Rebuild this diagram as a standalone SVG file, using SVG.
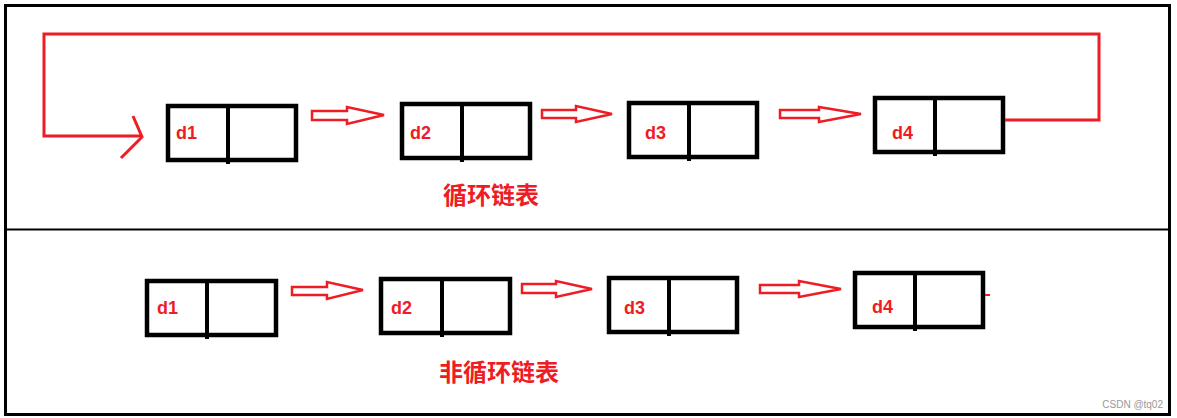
<svg xmlns="http://www.w3.org/2000/svg" width="1177" height="418" viewBox="0 0 1177 418">
<style>
.box{fill:none;stroke:#000;stroke-width:4.5}
.div{stroke:#000;stroke-width:4}
.lbl{font-family:"Liberation Sans",Arial,sans-serif;font-size:18px;font-weight:bold;fill:#ee1c24}
.title{font-family:"Noto Sans CJK SC",sans-serif;font-size:24px;font-weight:bold;fill:#ee1c24}
.hollow{fill:#fff;stroke:#ee1c24;stroke-width:2.5;stroke-linejoin:miter}
.red{fill:none;stroke:#ee1c24;stroke-width:3}
</style>
<rect x="0" y="0" width="1177" height="418" fill="#fff"/>
<rect x="5.5" y="5.5" width="1164" height="409" fill="none" stroke="#000" stroke-width="3"/>
<line x1="5" y1="229.5" x2="1170" y2="229.5" stroke="#000" stroke-width="2"/>

<g id="top-d1"><rect class="box" x="168" y="106" width="128" height="54"/><line class="div" x1="228" y1="106" x2="228" y2="164"/><text class="lbl" x="176" y="139">d1</text></g>
<g id="top-d2"><rect class="box" x="402" y="104" width="128" height="54"/><line class="div" x1="462" y1="104" x2="462" y2="162"/><text class="lbl" x="410" y="139">d2</text></g>
<g id="top-d3"><rect class="box" x="629" y="103" width="128" height="54"/><line class="div" x1="689" y1="103" x2="689" y2="161"/><text class="lbl" x="645" y="139">d3</text></g>
<g id="top-d4"><rect class="box" x="875" y="98" width="128" height="54"/><line class="div" x1="935" y1="98" x2="935" y2="156"/><text class="lbl" x="892" y="139">d4</text></g>
<text class="title" x="443" y="204">循环链表</text>

<g id="bot-d1"><rect class="box" x="147" y="281" width="129" height="54"/><line class="div" x1="207" y1="281" x2="207" y2="339"/><text class="lbl" x="157" y="314">d1</text></g>
<g id="bot-d2"><rect class="box" x="381" y="279" width="129" height="54"/><line class="div" x1="442" y1="279" x2="442" y2="337"/><text class="lbl" x="391" y="314">d2</text></g>
<g id="bot-d3"><rect class="box" x="609" y="278" width="128" height="54"/><line class="div" x1="669" y1="278" x2="669" y2="336"/><text class="lbl" x="624" y="314">d3</text></g>
<g id="bot-d4"><rect class="box" x="855" y="273" width="128" height="54"/><line class="div" x1="915" y1="273" x2="915" y2="331"/><text class="lbl" x="872" y="313">d4</text></g>
<text class="title" x="439" y="381">非循环链表</text>

<g id="connectors">
<polygon class="hollow" points="312,111 347,111 347,107 384,115 347,124 347,120 312,120"/>
<polygon class="hollow" points="542,110 576,110 576,106 612,114 576,122 576,118 542,118"/>
<polygon class="hollow" points="780,110 819,110 819,107 861,114 819,122 819,118 780,118"/>
<path class="red" d="M1005,120 H1099 V34 H44 V136 H142"/>
<path class="red" d="M133,116 L142,137 L121,158"/>
<polygon class="hollow" points="292,287 327,287 327,282 363,290 327,299 327,295 292,295"/>
<polygon class="hollow" points="522,284 556,284 556,281 592,289 556,297 556,293 522,293"/>
<polygon class="hollow" points="760,285 799,285 799,281 841,289 799,297 799,293 760,293"/>
<line x1="985" y1="295" x2="990" y2="295" stroke="#ee1c24" stroke-width="2"/>
</g>
<text x="1163" y="408" text-anchor="end" font-family="Liberation Sans,Arial,sans-serif" font-size="10" fill="#999">CSDN @tq02</text>
</svg>
